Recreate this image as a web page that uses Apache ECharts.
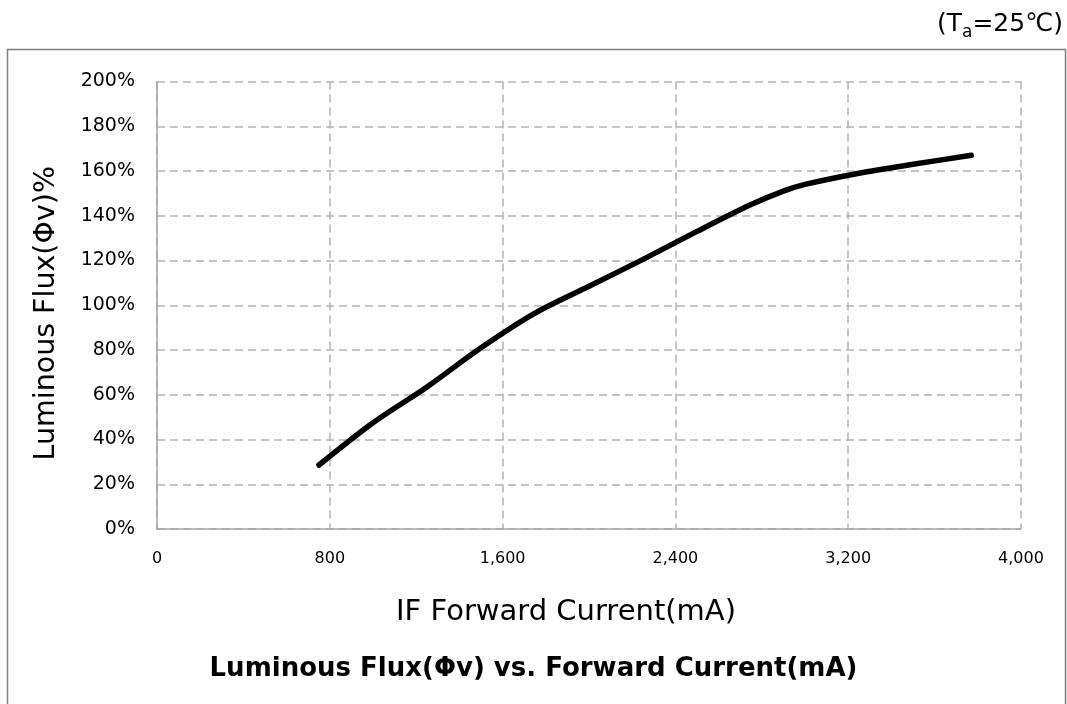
<!DOCTYPE html>
<html><head><meta charset="utf-8">
<script src="https://cdn.jsdelivr.net/npm/echarts@6/dist/echarts.min.js"></script>
<style>html,body{margin:0;padding:0;background:#fff}#c{width:1067px;height:704px}</style>
</head><body><div id="c"></div>
<script>
const currentMA = [750, 1000, 1250, 1500, 1750, 2000, 2250, 2500, 2750, 2900, 3000, 3250, 3500, 3770];
const fluxPct = [28.6, 47.5, 63.5, 81, 96.5, 108.5, 120.5, 133, 145, 151, 154, 159, 163, 167];
const xTicks = [0, 800, 1600, 2400, 3200, 4000];
const yTicks = [0, 20, 40, 60, 80, 100, 120, 140, 160, 180, 200];

const chart = echarts.init(document.getElementById('c'));
const font = '"DejaVu Sans", Verdana, sans-serif';
chart.setOption({
  animation: false,
  textStyle: { fontFamily: font },
  graphic: [
    { type: 'rect', shape: { x: 7.5, y: 49.5, width: 1058, height: 660 }, style: { fill: 'none', stroke: '#7f7f7f', lineWidth: 1.5 } },
    { type: 'text', right: 4, top: 12, style: { rich: { n: { fontSize: 25, fontFamily: font, fill: '#000' }, s: { fontSize: 17, fontFamily: font, fill: '#000', padding: [16, 0, 0, 0] } }, text: '{n|(T}{s|a}{n|=25℃)}' } },
    { type: 'text', left: 'center', top: 656, style: { text: 'Luminous Flux(Φv) vs. Forward Current(mA)', fontSize: 26, fontWeight: 'bold', fontFamily: font, fill: '#000' } }
  ],
  grid: { left: 157, right: 46, top: 81.5, bottom: 175 },
  xAxis: {
    type: 'value', min: 0, max: 4000, interval: 800,
    name: 'IF Forward Current(mA)', nameLocation: 'middle', nameGap: 69,
    nameTextStyle: { fontSize: 29, color: '#000', fontFamily: font, padding: [0, 46, 0, 0] },
    axisLine: { show: true, lineStyle: { color: '#a6a6a6', width: 1.5 } },
    axisTick: { show: false },
    axisLabel: { fontSize: 16, color: '#000', margin: 22, fontFamily: font,
      formatter: v => v.toLocaleString('en-US') },
    splitLine: { show: true, lineStyle: { color: '#b4b4b4', type: [8, 5], width: 1.5 } }
  },
  yAxis: {
    type: 'value', min: 0, max: 200, interval: 20,
    name: 'Luminous Flux(Φv)%', nameLocation: 'middle', nameGap: 96,
    nameTextStyle: { fontSize: 28.5, color: '#000', fontFamily: font, padding: [0, 16, 0, 0] },
    axisLine: { show: true, lineStyle: { color: '#a6a6a6', width: 1.5 } },
    axisTick: { show: false },
    axisLabel: { fontSize: 19, color: '#000', margin: 22, fontFamily: font, formatter: v => v + '%' },
    splitLine: { show: true, lineStyle: { color: '#b4b4b4', type: [8, 5], width: 1.5 } }
  },
  series: [{
    type: 'line', smooth: 0.3, symbol: 'none',
    data: currentMA.map((x, i) => [x, fluxPct[i]]),
    lineStyle: { color: '#000', width: 5.5, cap: 'round' }
  }]
});
</script></body></html>
